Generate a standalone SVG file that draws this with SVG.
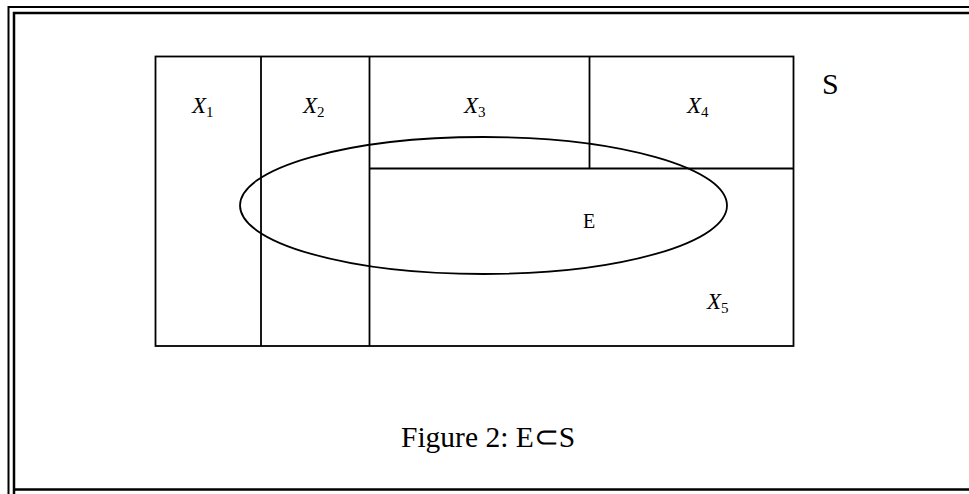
<svg xmlns="http://www.w3.org/2000/svg" width="969" height="494" viewBox="0 0 969 494">
<style>
.ln{fill:none;stroke:#000;stroke-width:1.8}
.t{font-family:"Liberation Serif","Times New Roman",serif;fill:#000}
.xi{font-style:italic;font-size:23px}
.sb{font-size:15px;font-style:normal}
</style>
<rect width="969" height="494" fill="#fff"/>
<g id="frame">
<path d="M8.5,494 V7 H975" fill="none" stroke="#000" stroke-width="2"/>
<path d="M14,494 V13 H975 M14,489.5 H975" fill="none" stroke="#000" stroke-width="2.5"/>
</g>
<g id="S-set">
<rect class="ln" x="155.5" y="56.5" width="638" height="289.5"/>
<text class="t" x="822" y="94" font-size="30">S</text>
</g>
<g id="partitions">
<line class="ln" x1="261" y1="56.5" x2="261" y2="346"/>
<line class="ln" x1="369.5" y1="56.5" x2="369.5" y2="346"/>
<line class="ln" x1="589.5" y1="56.5" x2="589.5" y2="168.5"/>
<line class="ln" x1="369.5" y1="168.5" x2="793.5" y2="168.5"/>
</g>
<g id="X1"><text class="t xi" x="192" y="113">X<tspan class="sb" dy="4">1</tspan></text></g>
<g id="X2"><text class="t xi" x="303" y="113">X<tspan class="sb" dy="4">2</tspan></text></g>
<g id="X3"><text class="t xi" x="464" y="113">X<tspan class="sb" dy="4">3</tspan></text></g>
<g id="X4"><text class="t xi" x="687" y="113">X<tspan class="sb" dy="4">4</tspan></text></g>
<g id="X5"><text class="t xi" x="707" y="309">X<tspan class="sb" dy="4">5</tspan></text></g>
<g id="E">
<ellipse class="ln" cx="483.5" cy="205.5" rx="243.5" ry="68.5"/>
<text class="t" x="583" y="228" font-size="20">E</text>
</g>
<g id="caption">
<text class="t" x="401" y="447" font-size="29.5">Figure 2: E⊂S</text>
</g>
</svg>
